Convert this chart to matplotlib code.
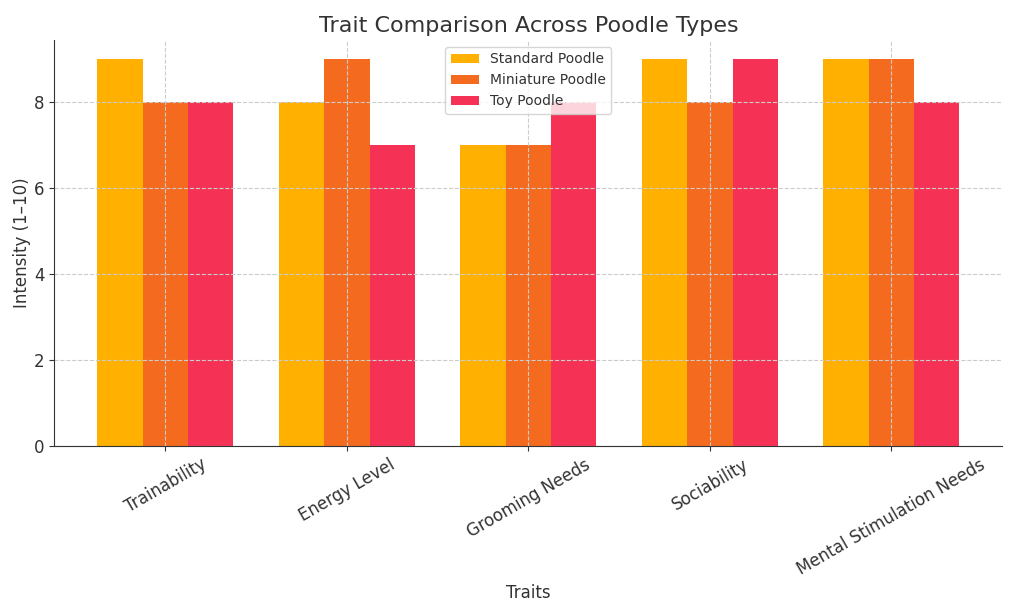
import matplotlib.pyplot as plt
import numpy as np

traits = ["Trainability", "Energy Level", "Grooming Needs", "Sociability", "Mental Stimulation Needs"]
standard = [9, 8, 7, 9, 9]
miniature = [8, 9, 7, 8, 9]
toy = [8, 7, 8, 9, 8]

series_names = ["Standard Poodle", "Miniature Poodle", "Toy Poodle"]
colors = ["#FFB000", "#F46A1F", "#F53255"]

plt.rcParams['text.color'] = '#333333'
plt.rcParams['axes.labelcolor'] = '#333333'
plt.rcParams['xtick.color'] = '#333333'
plt.rcParams['ytick.color'] = '#333333'

fig, ax = plt.subplots(figsize=(10.24, 6.14), dpi=100)

x = np.arange(len(traits))
w = 0.25
for i, (vals, name) in enumerate(zip([standard, miniature, toy], series_names)):
    ax.bar(x + (i - 1) * w, vals, w, label=name, color=colors[i])

ax.set_title("Trait Comparison Across Poodle Types", fontsize=16)
ax.set_xlabel("Traits", fontsize=12)
ax.set_ylabel("Intensity (1\u201310)", fontsize=12, labelpad=2)
ax.set_xticks(x)
ax.set_xticklabels(traits, rotation=30, fontsize=12)
ax.tick_params(axis='y', labelsize=12)
ax.grid(True, linestyle='--', color='#cccccc', linewidth=0.8)
ax.spines['top'].set_visible(False)
ax.spines['right'].set_visible(False)
ax.spines['left'].set_color('#333333')
ax.spines['bottom'].set_color('#333333')
ax.legend(loc='upper center')

fig.subplots_adjust(left=0.053, right=0.979, top=0.935, bottom=0.274)
fig.savefig("out.png", dpi=100)
